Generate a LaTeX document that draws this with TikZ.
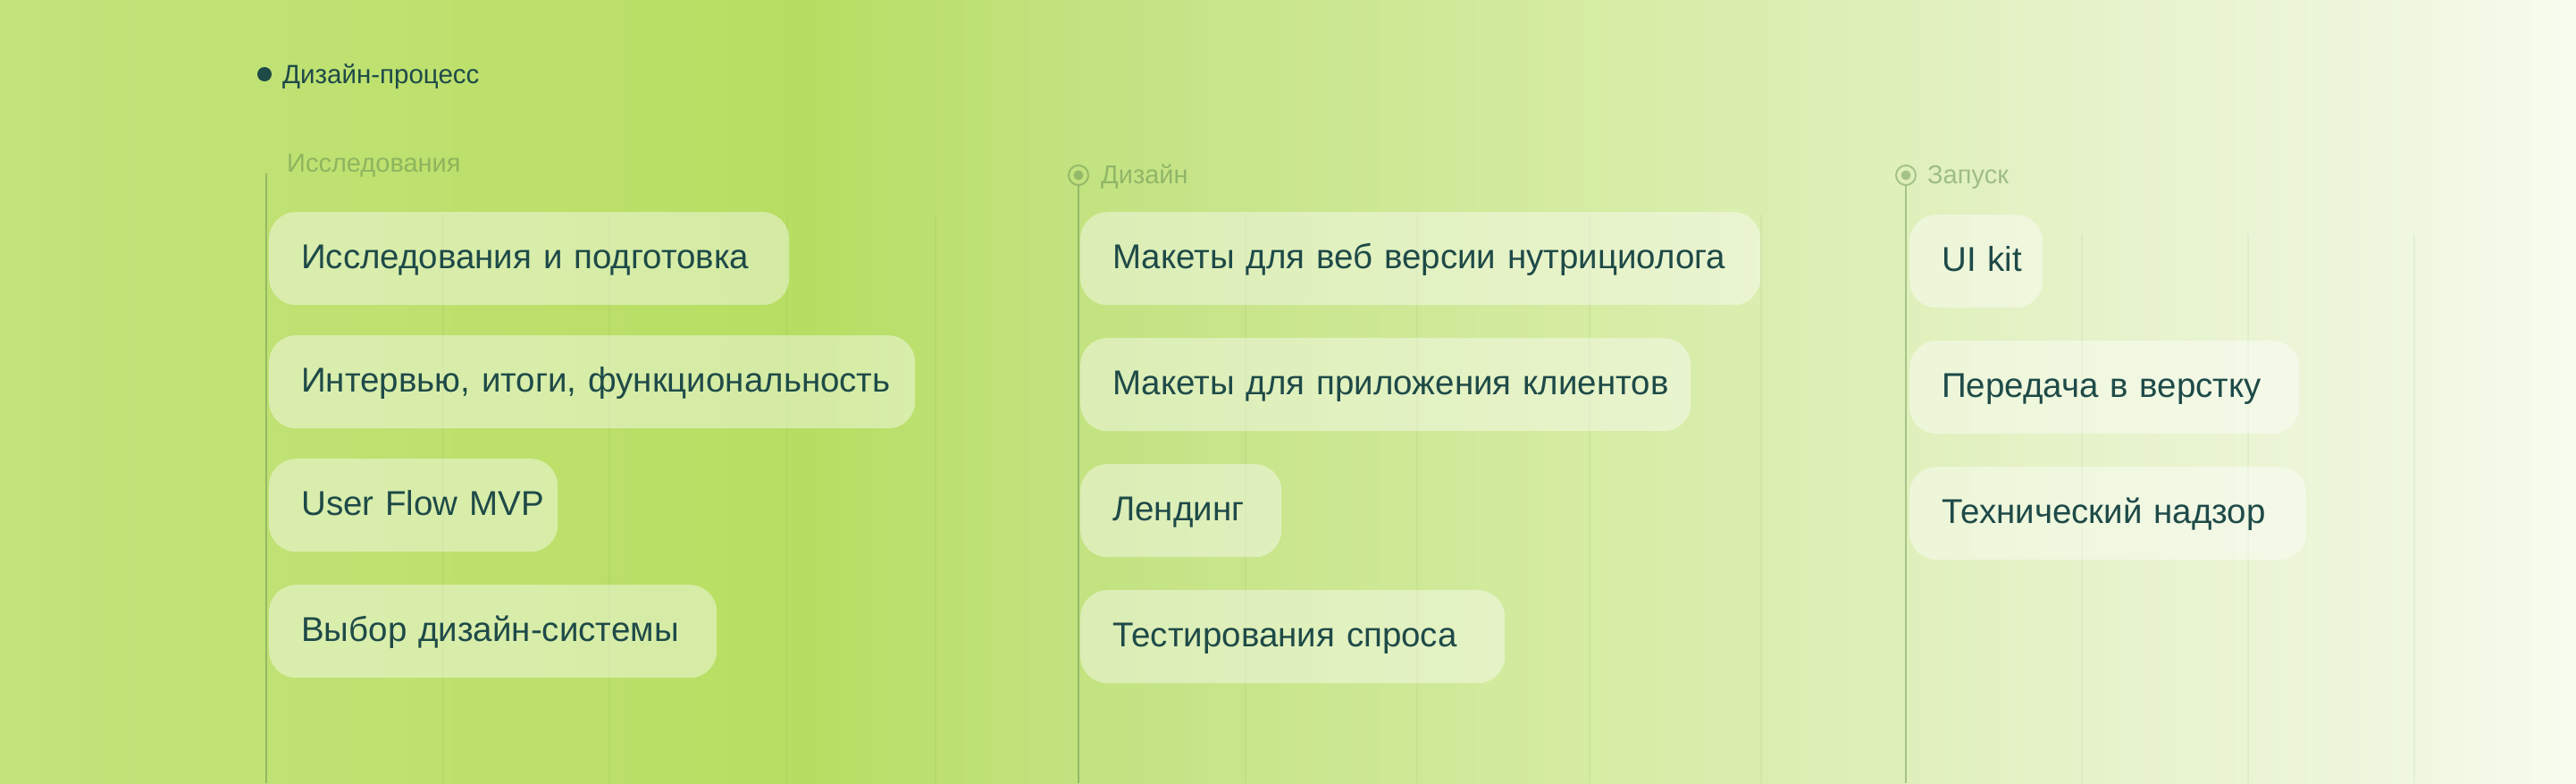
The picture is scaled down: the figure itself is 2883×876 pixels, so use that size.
\documentclass[tikz,border=0pt]{standalone}
\usepackage{fontspec}
\setmainfont{Liberation Sans}
\definecolor{bgA}{HTML}{C3E37C}
\definecolor{bgB}{HTML}{BDE06C}
\definecolor{bgC}{HTML}{B7DE62}
\definecolor{bgD}{HTML}{C2E27F}
\definecolor{bgE}{HTML}{D6ECA4}
\definecolor{bgF}{HTML}{E5F2C7}
\definecolor{bgG}{HTML}{EFF7E0}
\definecolor{bgH}{HTML}{F8FCEF}
\definecolor{ink}{HTML}{1E4A48}
\definecolor{sage}{HTML}{5E8A4E}
\tikzset{
  boxnode/.style={rectangle, rounded corners=30pt, fill=white, fill opacity=0.42,
    text opacity=1, text=ink, inner xsep=36pt, inner ysep=0pt, minimum height=104pt,
    text height=28pt, text depth=6pt, align=left, anchor=north west,
    font=\fontsize{38.5}{44}\selectfont},
  lbl/.style={anchor=base west, inner sep=0pt, text=sage, text opacity=0.5,
    font=\fontsize{29}{32}\selectfont},
  timeline/.style={draw=sage, draw opacity=0.45, line width=2pt},
  gridline/.style={draw=sage, draw opacity=0.07, line width=1.5pt},
  marker/.style={circle, draw=sage, draw opacity=0.45, line width=2pt, minimum size=22pt,
    inner sep=0pt, path picture={\fill[sage, fill opacity=0.45] (path picture bounding box.center) circle (5.5pt);}},
  headdot/.style={circle, fill=ink, minimum size=16pt, inner sep=0pt},
  headtxt/.style={anchor=base west, inner sep=0pt, text=ink, font=\fontsize{29.5}{32}\selectfont},
}
\begin{document}
\begin{tikzpicture}[x=1pt,y=-1pt]
\useasboundingbox (0,0) rectangle (2883,876);
% background gradient
\shade[left color=bgA, right color=bgB] (0,0) rectangle (552,876);
\shade[left color=bgB, right color=bgC] (551,0) rectangle (901,876);
\shade[left color=bgC, right color=bgD] (900,0) rectangle (1196,876);
\shade[left color=bgD, right color=bgE] (1195,0) rectangle (1803,876);
\shade[left color=bgE, right color=bgF] (1802,0) rectangle (2299,876);
\shade[left color=bgF, right color=bgG] (2298,0) rectangle (2704,876);
\shade[left color=bgG, right color=bgH] (2703,0) rectangle (2883,876);

% faint grid lines
\foreach \gx in {496,682,881,1047,1394,1586,1779,1971}{
  \coordinate (gt\gx) at (\gx,240);
  \coordinate (gb\gx) at (\gx,876);
  \draw[gridline] (gt\gx) -- (gb\gx);
}
\foreach \gx in {2330,2516,2702}{
  \coordinate (gt\gx) at (\gx,262);
  \coordinate (gb\gx) at (\gx,876);
  \draw[gridline] (gt\gx) -- (gb\gx);
}

% header
\node[headdot] (hdot) at (296,83) {};
\node[headtxt] (htitle) at (316,93) {Дизайн-процесс};

% column 1
\coordinate (t1a) at (298,194);
\coordinate (t1b) at (298,876);
\draw[timeline] (t1a) -- (t1b);
\node[lbl] (l1) at (321,192) {Исследования};

% column 2
\node[marker] (m2) at (1207,196) {};
\coordinate (t2b) at (1207,876);
\draw[timeline] (m2.south) -- (t2b);
\node[lbl] (l2) at (1232,205) {Дизайн};

% column 3
\node[marker] (m3) at (2133,196) {};
\coordinate (t3b) at (2133,876);
\draw[timeline] (m3.south) -- (t3b);
\node[lbl] (l3) at (2157,205) {Запуск};

% boxes column 1
\node[boxnode, text width=510pt] (a1) at (301,237) {\mbox{Исследования и подготовка}};
\node[boxnode, text width=651pt] (a2) at (301,375) {\mbox{Интервью, итоги, функциональность}};
\node[boxnode, text width=251pt] (a3) at (301,513) {\mbox{User Flow MVP}};
\node[boxnode, text width=429pt] (a4) at (301,654) {\mbox{Выбор дизайн-системы}};

% boxes column 2
\node[boxnode, text width=689pt] (b1) at (1209,237) {\mbox{Макеты для веб версии нутрициолога}};
\node[boxnode, text width=611pt] (b2) at (1209,378) {\mbox{Макеты для приложения клиентов}};
\node[boxnode, text width=153pt] (b3) at (1209,519) {\mbox{Лендинг}};
\node[boxnode, text width=403pt] (b4) at (1209,660) {\mbox{Тестирования спроса}};

% boxes column 3
\node[boxnode, text width=77pt] (c1) at (2137,240) {\mbox{UI kit}};
\node[boxnode, text width=364pt] (c2) at (2137,381) {\mbox{Передача в верстку}};
\node[boxnode, text width=372pt] (c3) at (2137,522) {\mbox{Технический надзор}};
\end{tikzpicture}
\end{document}
